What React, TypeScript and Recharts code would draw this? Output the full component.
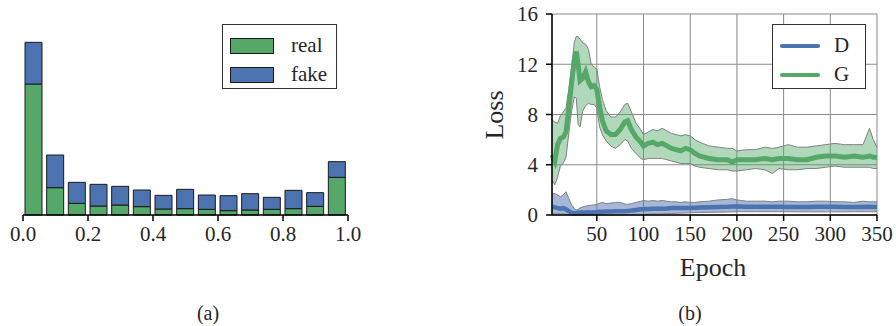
import React from "react";
import {
  Area,
  Bar,
  BarChart,
  CartesianGrid,
  ComposedChart,
  Line,
  XAxis,
  YAxis,
} from "recharts";

// (a) histogram of discriminator output, 15 bins over [0, 1]
const binCenters = [
  1 / 30, 3 / 30, 5 / 30, 7 / 30, 9 / 30, 11 / 30, 13 / 30, 15 / 30, 17 / 30,
  19 / 30, 21 / 30, 23 / 30, 25 / 30, 27 / 30, 29 / 30,
];
const realCounts = [393, 82, 35, 27, 30, 25, 18, 19, 17, 13, 15, 17, 19, 26, 113];
const fakeCounts = [125, 98, 63, 65, 56, 50, 41, 58, 43, 45, 49, 36, 55, 41, 47];
const histTicks = [0, 0.2, 0.4, 0.6, 0.8, 1.0];

// (b) loss curves, mean and band
const epochs = [
  2, 5, 8, 11, 14, 17, 20, 23, 26, 28, 30, 32, 35, 38, 41, 44, 47, 50, 53, 56,
  60, 65, 70, 75, 80, 83, 87, 92, 97, 100, 105, 110, 115, 120, 125, 130, 135,
  140, 145, 150, 155, 160, 170, 180, 190, 195, 200, 210, 220, 230, 238, 245,
  255, 265, 275, 285, 295, 305, 315, 325, 335, 342, 346, 350,
];
const gMean = [
  4.8, 4.3, 5.6, 6.1, 6.2, 6.6, 8.5, 10.5, 12.4, 13.0, 12.0, 10.7, 10.9, 11.4,
  10.6, 10.2, 10.3, 10.0, 8.6, 7.5, 6.7, 6.4, 6.4, 6.8, 7.4, 7.5, 6.8, 6.2, 5.8,
  5.5, 5.7, 5.8, 5.6, 5.7, 5.5, 5.3, 5.2, 5.1, 5.3, 5.2, 4.9, 4.7, 4.5, 4.4,
  4.4, 4.2, 4.4, 4.4, 4.4, 4.5, 4.4, 4.5, 4.5, 4.4, 4.4, 4.6, 4.7, 4.7, 4.6,
  4.7, 4.6, 4.7, 4.6, 4.6,
];
const gHigh = [
  7.6, 7.4, 7.3, 7.9, 8.2, 8.5, 10.0, 11.8, 13.8, 14.2, 14.2, 14.0, 13.7, 13.6,
  13.2, 12.0, 11.8, 11.6, 10.2, 9.2, 8.3, 7.8, 7.8, 8.2, 8.8, 8.9, 8.2, 7.3,
  6.8, 6.4, 6.6, 6.8, 6.7, 6.9, 6.7, 6.5, 6.4, 6.3, 6.4, 6.3, 6.0, 5.8, 5.5,
  5.4, 5.3, 5.3, 5.1, 5.2, 5.2, 5.4, 5.3, 5.4, 5.6, 5.4, 5.4, 5.5, 5.6, 5.7,
  5.6, 5.6, 5.6, 6.9, 6.0, 5.4,
];
const gLow = [
  2.8, 2.4, 3.0, 3.9, 4.1, 4.6, 6.5, 8.3, 9.4, 9.3, 7.2, 7.0, 8.3, 8.7, 8.9,
  8.8, 8.8, 8.5, 7.0, 6.4, 5.9, 5.5, 5.3, 5.6, 6.0, 5.9, 5.3, 4.9, 4.5, 4.4,
  4.5, 4.5, 4.5, 4.5, 4.4, 4.3, 4.2, 4.1, 4.1, 4.1, 3.9, 3.8, 3.7, 3.6, 3.6,
  3.5, 3.5, 3.6, 3.7, 3.6, 3.3, 3.7, 3.6, 3.6, 3.7, 3.7, 3.8, 3.9, 3.8, 3.8,
  3.8, 3.8, 3.7, 3.7,
];
const dMean = [
  0.7, 0.6, 0.55, 0.5, 0.55, 0.45, 0.3, 0.18, 0.12, 0.15, 0.18, 0.2, 0.2, 0.2,
  0.22, 0.2, 0.22, 0.22, 0.25, 0.25, 0.28, 0.28, 0.3, 0.3, 0.3, 0.32, 0.35,
  0.4, 0.45, 0.45, 0.48, 0.5, 0.5, 0.5, 0.52, 0.55, 0.55, 0.55, 0.56, 0.56,
  0.58, 0.6, 0.62, 0.64, 0.66, 0.68, 0.68, 0.66, 0.66, 0.65, 0.66, 0.66, 0.64,
  0.64, 0.63, 0.65, 0.66, 0.65, 0.64, 0.64, 0.64, 0.65, 0.64, 0.64,
];
const dHigh = [
  1.7, 1.7, 1.6, 1.45, 1.6, 1.85, 1.3, 0.8, 0.5, 0.4, 0.45, 0.55, 0.65, 0.7,
  0.75, 0.78, 0.8, 0.85, 0.95, 1.0, 0.9, 0.95, 1.0, 1.0, 0.88, 0.85, 0.9, 1.0,
  1.1, 1.15, 1.1, 1.15, 1.1, 1.15, 1.1, 1.05, 1.05, 1.0, 1.05, 1.0, 1.0, 1.05,
  1.1, 1.2, 1.25, 1.3, 1.2, 1.1, 1.1, 1.1, 1.05, 1.1, 1.1, 1.05, 1.05, 1.1,
  1.1, 1.05, 1.05, 1.0, 1.1, 1.05, 1.05, 1.05,
];
const dLow = [
  0.15, 0.1, 0.1, 0.08, 0.1, 0.05, 0.02, 0, 0, 0, 0, 0, 0, 0, 0, 0, 0, 0, 0, 0,
  0, 0, 0.01, 0.01, 0.02, 0.02, 0.03, 0.04, 0.05, 0.05, 0.07, 0.08, 0.09, 0.1,
  0.11, 0.12, 0.14, 0.15, 0.16, 0.18, 0.19, 0.2, 0.21, 0.22, 0.24, 0.25, 0.26,
  0.26, 0.26, 0.26, 0.26, 0.26, 0.26, 0.25, 0.25, 0.25, 0.25, 0.25, 0.25,
  0.26, 0.26, 0.26, 0.26, 0.26,
];
const epochTicks = [50, 100, 150, 200, 250, 300, 350];
const lossTicks = [0, 4, 8, 12, 16];

const GREEN = "#55a868";
const BLUE = "#4c72b0";
const INK = "#262626";
const FONT = "Liberation Serif, DejaVu Serif, serif";

const histData = binCenters.map((x, i) => ({
  x,
  real: realCounts[i],
  fake: fakeCounts[i],
}));

const lossData = epochs.map((e, i) => ({
  epoch: e,
  g: gMean[i],
  gBand: [gLow[i], gHigh[i]],
  d: dMean[i],
  dBand: [dLow[i], dHigh[i]],
}));

const tickText = { fontSize: 21, fill: INK, fontFamily: FONT };
const spine = { stroke: "#000", strokeWidth: 1.5 };

function Swatch({ kind, color }: { kind: "patch" | "line"; color: string }) {
  return kind === "patch" ? (
    <span
      style={{
        display: "inline-block",
        width: 42,
        height: 14,
        background: color,
        border: "1px solid #1a1a1a",
      }}
    />
  ) : (
    <span
      style={{
        display: "inline-block",
        width: 40,
        height: 4,
        borderRadius: 2,
        background: color,
      }}
    />
  );
}

function LegendBox({
  left,
  items,
  kind,
  gap,
}: {
  left: number;
  items: { label: string; color: string }[];
  kind: "patch" | "line";
  gap: number;
}) {
  return (
    <div
      style={{
        position: "absolute",
        left,
        top: 24,
        width: kind === "patch" ? 115 : 94,
        height: 65,
        background: "#fff",
        border: "1px solid #333",
        boxSizing: "border-box",
        padding: "6px 0 0 7px",
        fontFamily: FONT,
        fontSize: 21,
        color: INK,
      }}
    >
      {items.map((it) => (
        <div
          key={it.label}
          style={{ display: "flex", alignItems: "center", height: 29 }}
        >
          <Swatch kind={kind} color={it.color} />
          <span style={{ marginLeft: gap }}>{it.label}</span>
        </div>
      ))}
    </div>
  );
}

function Caption({ x, y, text, size = 20 }: { x: number; y: number; text: string; size?: number }) {
  return (
    <div
      style={{
        position: "absolute",
        left: x - 60,
        top: y - size * 0.6,
        width: 120,
        textAlign: "center",
        fontFamily: FONT,
        fontSize: size,
        color: INK,
        lineHeight: 1,
      }}
    >
      {text}
    </div>
  );
}

export default function App() {
  return (
    <div
      style={{
        position: "absolute",
        left: 0,
        top: 0,
        width: 896,
        height: 326,
        background: "#fff",
      }}
    >
      <div style={{ position: "absolute", left: 0, top: 0 }}>
        <BarChart
          width={370}
          height={250}
          data={histData}
          margin={{ top: 14, right: 22, left: 23, bottom: 5 }}
          barSize={17}
        >
          <XAxis
            type="number"
            dataKey="x"
            domain={[0, 1]}
            ticks={histTicks}
            tickFormatter={(v: number) => v.toFixed(1)}
            height={30}
            tick={tickText}
            axisLine={spine}
            tickLine={spine}
            tickSize={6}
            tickMargin={5}
          />
          <YAxis hide domain={[0, 603]} />
          <Bar
            dataKey="real"
            stackId="h"
            fill={GREEN}
            stroke="#1a1a1a"
            strokeWidth={1}
            isAnimationActive={false}
          />
          <Bar
            dataKey="fake"
            stackId="h"
            fill={BLUE}
            stroke="#1a1a1a"
            strokeWidth={1}
            isAnimationActive={false}
          />
        </BarChart>
      </div>
      <LegendBox
        left={222}
        kind="patch"
        gap={17}
        items={[
          { label: "real", color: GREEN },
          { label: "fake", color: BLUE },
        ]}
      />

      <div style={{ position: "absolute", left: 470, top: 0 }}>
        <ComposedChart
          width={426}
          height={250}
          data={lossData}
          margin={{ top: 14, right: 19, left: 37, bottom: 5 }}
        >
          <CartesianGrid stroke="#8a8a8a" strokeWidth={1} />
          <XAxis
            type="number"
            dataKey="epoch"
            domain={[2, 350]}
            ticks={epochTicks}
            height={30}
            tick={tickText}
            axisLine={spine}
            tickLine={spine}
            tickSize={6}
            tickMargin={5}
          />
          <YAxis
            type="number"
            domain={[0, 16]}
            ticks={lossTicks}
            width={45}
            tick={tickText}
            axisLine={spine}
            tickLine={spine}
            tickSize={6}
            tickMargin={8}
          />
          <Area
            dataKey="gBand"
            type="linear"
            fill={GREEN}
            fillOpacity={0.45}
            stroke="#808080"
            strokeWidth={1}
            isAnimationActive={false}
          />
          <Area
            dataKey="dBand"
            type="linear"
            fill={BLUE}
            fillOpacity={0.5}
            stroke="#808080"
            strokeWidth={1}
            isAnimationActive={false}
          />
          <Line
            dataKey="g"
            type="linear"
            stroke={GREEN}
            strokeWidth={5}
            dot={false}
            isAnimationActive={false}
          />
          <Line
            dataKey="d"
            type="linear"
            stroke={BLUE}
            strokeWidth={4.5}
            dot={false}
            isAnimationActive={false}
          />
        </ComposedChart>
      </div>
      <LegendBox
        left={772}
        kind="line"
        gap={14}
        items={[
          { label: "D", color: BLUE },
          { label: "G", color: GREEN },
        ]}
      />

      <div
        style={{
          position: "absolute",
          left: 495 - 40,
          top: 115 - 14,
          width: 80,
          height: 28,
          textAlign: "center",
          transform: "rotate(-90deg)",
          fontFamily: FONT,
          fontSize: 26,
          color: INK,
          lineHeight: "28px",
        }}
      >
        Loss
      </div>
      <Caption x={713} y={271} text="Epoch" size={26} />
      <Caption x={208} y={315} text="(a)" />
      <Caption x={690} y={315} text="(b)" />
    </div>
  );
}
